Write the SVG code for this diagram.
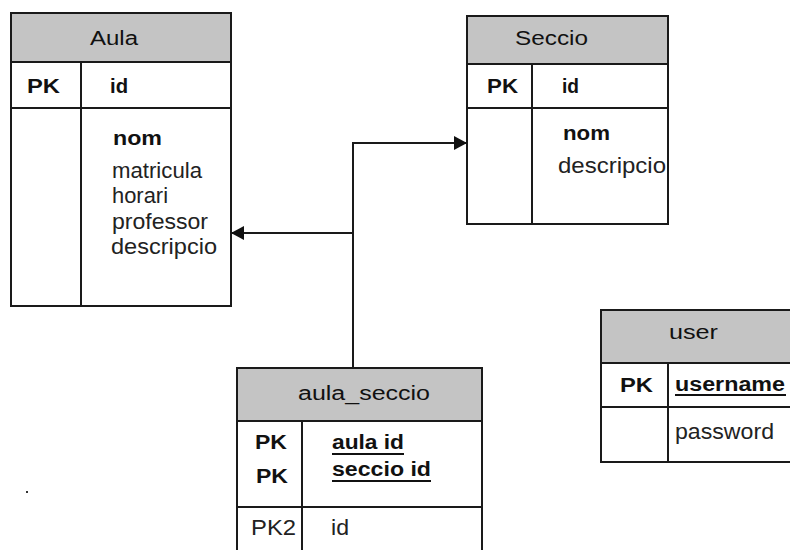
<svg xmlns="http://www.w3.org/2000/svg" width="790" height="550" viewBox="0 0 790 550">
  <style>
    .box { fill: #ffffff; stroke: #1a1a1a; stroke-width: 2; }
    .head { fill: #c4c4c4; stroke: #1a1a1a; stroke-width: 2; }
    .rule { stroke: #1a1a1a; stroke-width: 2; fill: none; }
    text { font-family: "Liberation Sans", Arial, sans-serif; fill: #111111; }
    .title { font-size: 20px; }
    .key { font-size: 20px; font-weight: bold; }
    .attr { font-size: 22px; fill: #222222; }
    .ul { stroke: #111111; stroke-width: 2.2; }
    .link { stroke: #1a1a1a; stroke-width: 2; fill: none; }
  </style>
  <defs>
    <marker id="arrow" viewBox="0 0 13 14" refX="13" refY="7" markerWidth="13" markerHeight="14" markerUnits="userSpaceOnUse" orient="auto">
      <path d="M0,0 L13,7 L0,14 Z" fill="#111111"/>
    </marker>
  </defs>

  <rect width="790" height="550" fill="#ffffff"/>

  <!-- Aula table -->
  <g id="aula">
    <rect class="box" x="11" y="13" width="220" height="293"/>
    <rect class="head" x="11" y="13" width="220" height="49"/>
    <line class="rule" x1="11" y1="108" x2="231" y2="108"/>
    <line class="rule" x1="81" y1="62" x2="81" y2="306"/>
    <text class="title" x="90" y="45" textLength="48" lengthAdjust="spacingAndGlyphs">Aula</text>
    <text class="key" x="27" y="93" textLength="33" lengthAdjust="spacingAndGlyphs">PK</text>
    <text class="key" x="110" y="93" textLength="18" lengthAdjust="spacingAndGlyphs">id</text>
    <text class="key" x="113" y="145" textLength="49" lengthAdjust="spacingAndGlyphs">nom</text>
    <text class="attr" x="112" y="178" textLength="90" lengthAdjust="spacingAndGlyphs">matricula</text>
    <text class="attr" x="112" y="203" textLength="56" lengthAdjust="spacingAndGlyphs">horari</text>
    <text class="attr" x="112" y="229" textLength="96" lengthAdjust="spacingAndGlyphs">professor</text>
    <text class="attr" x="111" y="254" textLength="106" lengthAdjust="spacingAndGlyphs">descripcio</text>
  </g>

  <!-- Seccio table -->
  <g id="seccio">
    <rect class="box" x="467" y="16" width="201" height="208"/>
    <rect class="head" x="467" y="16" width="201" height="48"/>
    <line class="rule" x1="467" y1="108" x2="668" y2="108"/>
    <line class="rule" x1="532" y1="64" x2="532" y2="224"/>
    <text class="title" x="515" y="45" textLength="73" lengthAdjust="spacingAndGlyphs">Seccio</text>
    <text class="key" x="487" y="93" textLength="31" lengthAdjust="spacingAndGlyphs">PK</text>
    <text class="key" x="562" y="93" textLength="17" lengthAdjust="spacingAndGlyphs">id</text>
    <text class="key" x="563" y="140" textLength="47" lengthAdjust="spacingAndGlyphs">nom</text>
    <text class="attr" x="558" y="173" textLength="108" lengthAdjust="spacingAndGlyphs">descripcio</text>
  </g>

  <!-- aula_seccio join table -->
  <g id="aula_seccio">
    <rect class="box" x="237" y="368" width="245" height="200"/>
    <rect class="head" x="237" y="368" width="245" height="53"/>
    <line class="rule" x1="237" y1="507" x2="482" y2="507"/>
    <line class="rule" x1="302" y1="421" x2="302" y2="550"/>
    <text class="title" x="298" y="400" textLength="132" lengthAdjust="spacingAndGlyphs">aula_seccio</text>
    <text class="key" x="255" y="449" textLength="32" lengthAdjust="spacingAndGlyphs">PK</text>
    <text class="key" x="256" y="483" textLength="32" lengthAdjust="spacingAndGlyphs">PK</text>
    <text class="key" x="332" y="449" textLength="72" lengthAdjust="spacingAndGlyphs">aula id</text>
    <line class="ul" x1="332" y1="454" x2="404" y2="454"/>
    <text class="key" x="332" y="476" textLength="99" lengthAdjust="spacingAndGlyphs">seccio id</text>
    <line class="ul" x1="332" y1="481" x2="431" y2="481"/>
    <text class="attr" x="251" y="535" textLength="45" lengthAdjust="spacingAndGlyphs">PK2</text>
    <text class="attr" x="331" y="535" textLength="18" lengthAdjust="spacingAndGlyphs">id</text>
  </g>

  <!-- user table -->
  <g id="user">
    <rect class="box" x="601" y="310" width="200" height="152"/>
    <rect class="head" x="601" y="310" width="200" height="53"/>
    <line class="rule" x1="601" y1="407" x2="790" y2="407"/>
    <line class="rule" x1="668" y1="363" x2="668" y2="462"/>
    <text class="title" x="669" y="339" textLength="49" lengthAdjust="spacingAndGlyphs">user</text>
    <text class="key" x="620" y="392" textLength="33" lengthAdjust="spacingAndGlyphs">PK</text>
    <text class="key" x="675" y="391" textLength="110" lengthAdjust="spacingAndGlyphs">username</text>
    <line class="ul" x1="675" y1="395" x2="786" y2="395"/>
    <text class="attr" x="675" y="439" textLength="99" lengthAdjust="spacingAndGlyphs">password</text>
  </g>

  <!-- relationship lines -->
  <g id="connectors">
    <path class="link" d="M353,368 V143 H467" marker-end="url(#arrow)"/>
    <path class="link" d="M353,233 H231" marker-end="url(#arrow)"/>
  </g>

  <!-- stray point near the lower left -->
  <rect x="26" y="491" width="2" height="2" fill="#333333"/>
</svg>
